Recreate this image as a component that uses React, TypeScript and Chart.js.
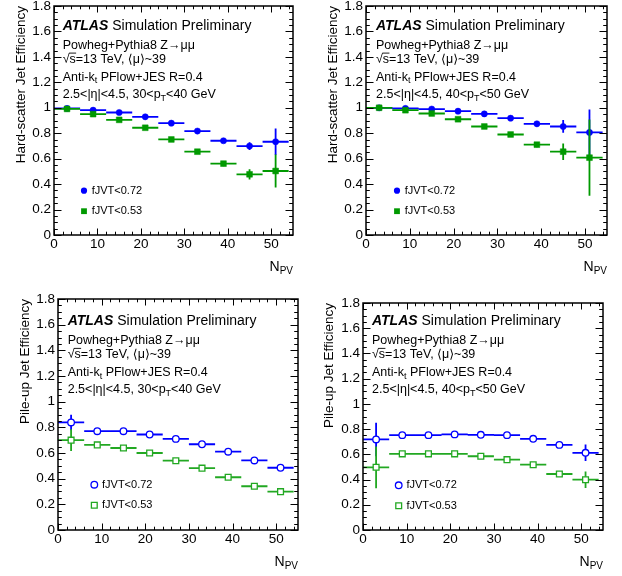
import React, { useEffect, useRef } from "react";
import { Chart, registerables } from "chart.js";

Chart.register(...registerables);

// ---------------- data ----------------
const binLow = [0, 6, 12, 18, 24, 30, 36, 42, 48];
const binHigh = [6, 12, 18, 24, 30, 36, 42, 48, 54];
const binCenter = [3, 9, 15, 21, 27, 33, 39, 45, 51];

const xTickValues = [0, 10, 20, 30, 40, 50];
const xTickLabels = ["0", "10", "20", "30", "40", "50"];
const yTickValues = [0, 0.2, 0.4, 0.6, 0.8, 1.0, 1.2, 1.4, 1.6, 1.8];
const yTickLabels = ["0", "0.2", "0.4", "0.6", "0.8", "1", "1.2", "1.4", "1.6", "1.8"];

const seriesLabels = ["fJVT<0.72", "fJVT<0.53"];

// Hard-scatter efficiency, 30<pT<40 GeV
const hs30Eff072 = [0.995, 0.981, 0.963, 0.929, 0.879, 0.817, 0.741, 0.699, 0.733];
const hs30Err072 = [0.005, 0.006, 0.007, 0.008, 0.01, 0.012, 0.015, 0.03, 0.105];
const hs30Eff053 = [0.991, 0.95, 0.905, 0.843, 0.751, 0.655, 0.561, 0.477, 0.503];
const hs30Err053 = [0.006, 0.008, 0.01, 0.012, 0.014, 0.016, 0.02, 0.04, 0.13];

// Hard-scatter efficiency, 40<pT<50 GeV
const hs40Eff072 = [1.0, 0.995, 0.99, 0.973, 0.952, 0.918, 0.874, 0.853, 0.806];
const hs40Err072 = [0.004, 0.005, 0.006, 0.008, 0.01, 0.012, 0.018, 0.05, 0.18];
const hs40Eff053 = [1.0, 0.981, 0.955, 0.91, 0.853, 0.79, 0.71, 0.655, 0.608];
const hs40Err053 = [0.005, 0.007, 0.009, 0.011, 0.013, 0.016, 0.02, 0.065, 0.3];

// Pile-up efficiency, 30<pT<40 GeV
const pu30Eff072 = [0.838, 0.77, 0.77, 0.744, 0.71, 0.668, 0.61, 0.542, 0.485];
const pu30Err072 = [0.06, 0.01, 0.008, 0.007, 0.007, 0.007, 0.007, 0.008, 0.01];
const pu30Eff053 = [0.7, 0.663, 0.639, 0.6, 0.54, 0.482, 0.411, 0.341, 0.299];
const pu30Err053 = [0.085, 0.01, 0.008, 0.007, 0.007, 0.007, 0.007, 0.008, 0.01];

// Pile-up efficiency, 40<pT<50 GeV
const pu40Eff072 = [0.718, 0.752, 0.752, 0.758, 0.755, 0.752, 0.723, 0.675, 0.612];
const pu40Err072 = [0.133, 0.012, 0.01, 0.01, 0.01, 0.01, 0.012, 0.015, 0.065];
const pu40Eff053 = [0.497, 0.604, 0.604, 0.604, 0.585, 0.558, 0.518, 0.444, 0.399];
const pu40Err053 = [0.165, 0.012, 0.01, 0.01, 0.01, 0.01, 0.012, 0.015, 0.065];

// ---------------- styling / layout ----------------
const SANS = '"Liberation Sans", Arial, Helvetica, "DejaVu Sans", sans-serif';
const BLUE = "#0000ff";
const GREEN = "#009900";
const GREEN_OPEN = "#22a822";
const CW = 311;
const CH = 288;
const AXIS_FONT = 13.5;

type PanelDef = {
  key: string;
  left: number;
  top: number;
  frame: { l: number; t: number; r: number; b: number };
  titleX: number;
  yTitle: string;
  pt: [string, string];
  textX: number;
  textY: number;
  legX: number;
  legY: number;
  hollow: boolean;
  eff072: number[];
  err072: number[];
  eff053: number[];
  err053: number[];
};

const PANELS: PanelDef[] = [
  {
    key: "hs30", left: 0, top: 0, frame: { l: 54, t: 6, r: 293, b: 235 }, titleX: 21.7,
    yTitle: "Hard-scatter Jet Efficiency", pt: ["30", "40"], textX: 62.7, textY: 26,
    legX: 84, legY: 190.7, hollow: false,
    eff072: hs30Eff072, err072: hs30Err072, eff053: hs30Eff053, err053: hs30Err053,
  },
  {
    key: "hs40", left: 311, top: 0, frame: { l: 55, t: 6, r: 296, b: 235 }, titleX: 22.7,
    yTitle: "Hard-scatter Jet Efficiency", pt: ["40", "50"], textX: 65, textY: 26,
    legX: 86, legY: 190.7, hollow: false,
    eff072: hs40Eff072, err072: hs40Err072, eff053: hs40Eff053, err053: hs40Err053,
  },
  {
    key: "pu30", left: 0, top: 288, frame: { l: 58, t: 11, r: 298, b: 242 }, titleX: 25,
    yTitle: "Pile-up Jet Efficiency", pt: ["30", "40"], textX: 67.7, textY: 33.3,
    legX: 94.3, legY: 196.7, hollow: true,
    eff072: pu30Eff072, err072: pu30Err072, eff053: pu30Eff053, err053: pu30Err053,
  },
  {
    key: "pu40", left: 311, top: 288, frame: { l: 52, t: 15, r: 292, b: 242 }, titleX: 18.3,
    yTitle: "Pile-up Jet Efficiency", pt: ["40", "50"], textX: 61, textY: 33.3,
    legX: 87.7, legY: 197.3, hollow: true,
    eff072: pu40Eff072, err072: pu40Err072, eff053: pu40Eff053, err053: pu40Err053,
  },
];

type Run = { text: string; font: string; dy?: number; over?: boolean };

function drawRuns(ctx: CanvasRenderingContext2D, runs: Run[], x: number, y: number) {
  let cx = x;
  for (const r of runs) {
    ctx.font = r.font;
    ctx.fillText(r.text, cx, y + (r.dy || 0));
    const w = ctx.measureText(r.text).width;
    if (r.over) {
      ctx.beginPath();
      ctx.lineWidth = 0.9;
      ctx.moveTo(cx - 0.5, y - 6.2);
      ctx.lineTo(cx + w + 0.3, y - 6.2);
      ctx.stroke();
    }
    cx += w;
  }
  return cx;
}

function hBars(eff: number[]) {
  const pts: any[] = [];
  eff.forEach((v, i) => {
    pts.push({ x: binLow[i], y: v }, { x: binHigh[i], y: v }, { x: binHigh[i], y: null });
  });
  return pts;
}

function vBars(eff: number[], err: number[]) {
  const pts: any[] = [];
  eff.forEach((v, i) => {
    pts.push({ x: binCenter[i], y: v - err[i] }, { x: binCenter[i], y: v + err[i] }, { x: binCenter[i], y: null });
  });
  return pts;
}

function markers(eff: number[]) {
  return eff.map((v, i) => ({ x: binCenter[i], y: v }));
}

function drawMarker(ctx: CanvasRenderingContext2D, kind: "circle" | "square", x: number, y: number, color: string, hollow: boolean) {
  ctx.save();
  ctx.beginPath();
  if (kind === "circle") {
    ctx.arc(x, y, hollow ? 3.3 : 3.1, 0, Math.PI * 2);
  } else {
    const h = hollow ? 2.9 : 2.9;
    ctx.rect(x - h, y - h, 2 * h, 2 * h);
  }
  if (hollow) {
    ctx.fillStyle = "#fff";
    ctx.fill();
    ctx.lineWidth = 1.3;
    ctx.strokeStyle = color;
    ctx.stroke();
  } else {
    ctx.fillStyle = color;
    ctx.fill();
  }
  ctx.restore();
}

function makePlugin(p: PanelDef) {
  return {
    id: "atlasDecor_" + p.key,
    afterDatasetsDraw(chart: any) {
      const { ctx, chartArea: a, scales } = chart;
      const xs = scales.x;
      const ys = scales.y;
      ctx.save();
      ctx.strokeStyle = "#000";
      ctx.lineWidth = 1;
      ctx.beginPath();
      for (let k = 0; k <= 27; k++) {
        const v = k * 2;
        const px = Math.round(xs.getPixelForValue(v)) + 0.5;
        const len = v % 10 === 0 ? 6.5 : 3.3;
        ctx.moveTo(px, a.bottom);
        ctx.lineTo(px, a.bottom - len);
        ctx.moveTo(px, a.top);
        ctx.lineTo(px, a.top + len);
      }
      for (let k = 0; k <= 36; k++) {
        const v = k * 0.05;
        const py = Math.round(ys.getPixelForValue(v)) + 0.5;
        const len = k % 4 === 0 ? 7.5 : 3.8;
        ctx.moveTo(a.left, py);
        ctx.lineTo(a.left + len, py);
        ctx.moveTo(a.right, py);
        ctx.lineTo(a.right - len, py);
      }
      ctx.stroke();
      ctx.lineWidth = 1.5;
      ctx.strokeRect(a.left, a.top, a.right - a.left, a.bottom - a.top);
      ctx.restore();
    },
    afterDraw(chart: any) {
      const { ctx, chartArea: a } = chart;
      ctx.save();
      ctx.fillStyle = "#000";
      ctx.strokeStyle = "#000";
      ctx.textBaseline = "middle";
      ctx.textAlign = "left";
      const f14 = `14px ${SANS}`;
      const f125 = `12.5px ${SANS}`;
      const fsub = `9px ${SANS}`;
      const lineOff = [0, 19.7, 33.3, 51.3, 68.3];
      const x0 = p.textX;
      const y0 = p.textY;
      drawRuns(ctx, [
        { text: "ATLAS", font: `italic bold 14px ${SANS}` },
        { text: " Simulation Preliminary", font: f14 },
      ], x0, y0 + lineOff[0]);
      drawRuns(ctx, [{ text: "Powheg+Pythia8 Z\u2192\u03bc\u03bc", font: f125 }], x0, y0 + lineOff[1]);
      drawRuns(ctx, [
        { text: "\u221a", font: f125 },
        { text: "s", font: f125, over: true },
        { text: "=13 TeV, \u27e8\u03bc\u27e9~39", font: f125 },
      ], x0, y0 + lineOff[2]);
      drawRuns(ctx, [
        { text: "Anti-k", font: f125 },
        { text: "t", font: fsub, dy: 3.5 },
        { text: " PFlow+JES R=0.4", font: f125 },
      ], x0, y0 + lineOff[3]);
      drawRuns(ctx, [
        { text: `2.5<|\u03b7|<4.5, ${p.pt[0]}<p`, font: f125 },
        { text: "T", font: fsub, dy: 4 },
        { text: `<${p.pt[1]} GeV`, font: f125 },
      ], x0, y0 + lineOff[4]);

      // legend
      const fleg = `11px ${SANS}`;
      const legRows = [
        { kind: "circle" as const, color: BLUE, label: seriesLabels[0] },
        { kind: "square" as const, color: p.hollow ? GREEN_OPEN : GREEN, label: seriesLabels[1] },
      ];
      legRows.forEach((r, i) => {
        const ly = p.legY + i * 20.5;
        drawMarker(ctx, r.kind, p.legX, ly, r.color, p.hollow);
        ctx.fillStyle = "#000";
        ctx.font = fleg;
        ctx.fillText(r.label, p.legX + 7.7, ly);
      });

      // x-axis title N_PV
      ctx.font = f14;
      const wN = ctx.measureText("N").width;
      ctx.font = `10px ${SANS}`;
      const wPV = ctx.measureText("PV").width;
      const ty = a.bottom + 32;
      ctx.font = f14;
      ctx.fillText("N", a.right - wPV - wN, ty);
      ctx.font = `10px ${SANS}`;
      ctx.fillText("PV", a.right - wPV, ty + 4);
      ctx.restore();
    },
  };
}

function buildConfig(p: PanelDef): any {
  const padLeft = p.titleX - (AXIS_FONT * 1.2) / 2;
  const green = p.hollow ? GREEN_OPEN : GREEN;
  const barStyle = (color: string) => ({
    showLine: true,
    pointRadius: 0,
    pointHoverRadius: 0,
    borderColor: color,
    borderWidth: 1.8,
    spanGaps: false,
    fill: false,
  });
  const markerStyle = (color: string, style: string, radius: number) => ({
    showLine: false,
    pointStyle: style,
    pointRadius: radius,
    pointHoverRadius: radius,
    backgroundColor: p.hollow ? "#ffffff" : color,
    borderColor: color,
    pointBorderWidth: p.hollow ? 1.3 : 0.5,
  });
  const datasets = [
    { label: seriesLabels[1], data: markers(p.eff053), ...markerStyle(green, "rect", 4.1) },
    { label: seriesLabels[1] + " x", data: hBars(p.eff053), ...barStyle(green) },
    { label: seriesLabels[1] + " y", data: vBars(p.eff053, p.err053), ...barStyle(green) },
    { label: seriesLabels[0], data: markers(p.eff072), ...markerStyle(BLUE, "circle", p.hollow ? 3.3 : 3.1) },
    { label: seriesLabels[0] + " x", data: hBars(p.eff072), ...barStyle(BLUE) },
    { label: seriesLabels[0] + " y", data: vBars(p.eff072, p.err072), ...barStyle(BLUE) },
  ];
  return {
    type: "scatter",
    data: { datasets },
    options: {
      animation: false,
      responsive: false,
      devicePixelRatio: 1,
      events: [],
      layout: { padding: { left: padLeft, right: CW - p.frame.r, top: p.frame.t, bottom: 0 } },
      plugins: { legend: { display: false }, tooltip: { enabled: false }, title: { display: false } },
      scales: {
        x: {
          type: "linear",
          position: "bottom",
          min: 0,
          max: 55,
          grid: { display: false, drawTicks: false },
          border: { display: false },
          ticks: {
            autoSkip: false,
            maxRotation: 0,
            padding: 1.5,
            color: "#000",
            font: { family: SANS, size: AXIS_FONT },
            callback: (_v: any, i: number) => xTickLabels[i],
          },
          afterBuildTicks: (scale: any) => {
            scale.ticks = xTickValues.map((v) => ({ value: v }));
          },
          afterFit: (scale: any) => {
            scale.height = CH - p.frame.b;
            scale.paddingLeft = 0;
            scale.paddingRight = 0;
            scale.paddingTop = 0;
            scale.paddingBottom = 0;
          },
        },
        y: {
          type: "linear",
          position: "left",
          min: 0,
          max: 1.8,
          grid: { display: false, drawTicks: false },
          border: { display: false },
          title: {
            display: true,
            text: p.yTitle,
            align: "end",
            padding: 0,
            color: "#000",
            font: { family: SANS, size: AXIS_FONT },
          },
          ticks: {
            autoSkip: false,
            padding: 3,
            color: "#000",
            font: { family: SANS, size: AXIS_FONT },
            callback: (_v: any, i: number) => yTickLabels[i],
          },
          afterBuildTicks: (scale: any) => {
            scale.ticks = yTickValues.map((v) => ({ value: v }));
          },
          afterFit: (scale: any) => {
            scale.width = p.frame.l - padLeft;
            scale.paddingLeft = 0;
            scale.paddingRight = 0;
            scale.paddingTop = 0;
            scale.paddingBottom = 0;
          },
        },
      },
    },
    plugins: [makePlugin(p)],
  };
}

function Panel({ p }: { p: PanelDef }) {
  const ref = useRef<HTMLCanvasElement>(null);
  useEffect(() => {
    if (!ref.current) return;
    const chart = new Chart(ref.current, buildConfig(p));
    return () => chart.destroy();
  }, [p]);
  return (
    <canvas
      ref={ref}
      width={CW}
      height={CH}
      style={{ position: "absolute", left: p.left, top: p.top, width: CW, height: CH, display: "block" }}
    />
  );
}

export default function App() {
  return (
    <div style={{ position: "absolute", left: 0, top: 0, width: 622, height: 576, background: "#ffffff" }}>
      {PANELS.map((p) => (
        <Panel key={p.key} p={p} />
      ))}
    </div>
  );
}
